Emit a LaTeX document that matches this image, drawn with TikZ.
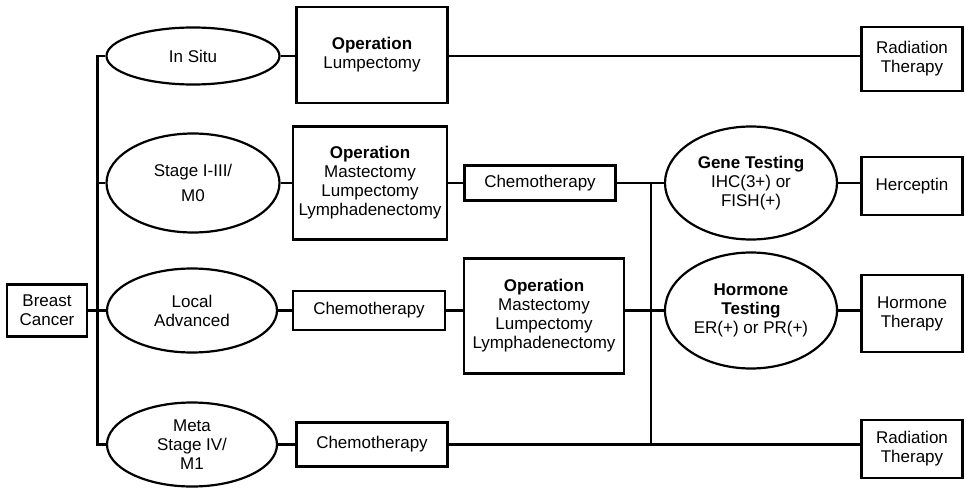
\documentclass[tikz,border=0pt]{standalone}
\usepackage{fontspec}
\setmainfont{Liberation Sans}
\usetikzlibrary{shapes.geometric}

\tikzset{
  box/.style={draw, rectangle, line width=2.2pt, inner sep=0pt, align=center},
  oval/.style={draw, ellipse, line width=2.2pt, inner sep=0pt, align=center},
  link/.style={line width=2.2pt}
}

\begin{document}
\begin{tikzpicture}[x=1pt, y=-1pt, font=\fontsize{17}{19}\selectfont]
  \useasboundingbox (0,0) rectangle (965,487);

  % Start and stages
  \node[box, minimum width=80pt, minimum height=52pt] (cancer) at (47,310.5) {Breast\\Cancer};
  \node[oval, minimum width=173pt, minimum height=57pt] (insitu) at (193,56) {In Situ};
  \node[oval, minimum width=173pt, minimum height=99pt] (stage) at (193,183) {Stage I-III/\\[6pt]M0};
  \node[oval, minimum width=170pt, minimum height=84pt] (local) at (192,310.5) {Local\\Advanced};
  \node[oval, minimum width=170pt, minimum height=84pt] (meta) at (192,444.5) {Meta\\Stage IV/\\M1};

  % First treatment
  \node[box, minimum width=151pt, minimum height=96pt] (op1) at (372,55) {\textbf{Operation}\\Lumpectomy};
  \node[box, minimum width=154pt, minimum height=113pt] (op2) at (370,183) {\textbf{Operation}\\Mastectomy\\Lumpectomy\\Lymphadenectomy};
  \node[box, minimum width=152pt, minimum height=39pt] (chemo2) at (369,310.5) {Chemotherapy};
  \node[box, minimum width=151pt, minimum height=44pt] (chemo3) at (372,444.5) {Chemotherapy};

  % Second treatment
  \node[box, minimum width=151pt, minimum height=35pt] (chemo1) at (540,183) {Chemotherapy};
  \node[box, minimum width=160pt, minimum height=115pt] (op3) at (544,316) {\textbf{Operation}\\Mastectomy\\Lumpectomy\\Lymphadenectomy};

  % Testing
  \node[oval, minimum width=172pt, minimum height=113pt] (gene) at (751,183) {\textbf{Gene Testing}\\IHC(3+) or\\FISH(+)};
  \node[oval, minimum width=172pt, minimum height=116pt] (hormone) at (751,310.5) {\textbf{Hormone}\\\textbf{Testing}\\ER(+) or PR(+)};

  % Therapies
  \node[box, minimum width=101pt, minimum height=64pt] (rad1) at (912,59) {Radiation\\Therapy};
  \node[box, minimum width=101pt, minimum height=58pt] (herceptin) at (912,186) {Herceptin};
  \node[box, minimum width=101pt, minimum height=77pt] (hther) at (912,313.5) {Hormone\\Therapy};
  \node[box, minimum width=101pt, minimum height=58pt] (rad2) at (912,449) {Radiation\\Therapy};

  \coordinate (trunk) at (97.5,0);
  \coordinate (bus) at (651,0);

  % Connectors
  \draw[link] (cancer) -- (local);
  \draw[link] (insitu.west) -- (insitu.west -| trunk) -- (meta.west -| trunk) -- (meta.west);
  \draw[link] (stage.west -| trunk) -- (stage.west);

  \draw[link] (insitu) -- (insitu.east -| op1.west);
  \draw[link] (insitu.east -| op1.east) -- (insitu.east -| rad1.west);

  \draw[link] (stage) -- (op2) -- (chemo1);
  \draw[link] (chemo1) -- (gene);
  \draw[link] (gene.east) -- (gene.east -| herceptin.west);

  \draw[link] (local) -- (chemo2);
  \draw[link] (chemo2.east) -- (chemo2.east -| op3.west);
  \draw[link] (hormone.west -| op3.east) -- (hormone.west);
  \draw[link] (hormone.east) -- (hormone.east -| hther.west);

  \draw[link] (meta) -- (chemo3);
  \draw[link] (chemo3.east) -- (chemo3.east -| rad2.west);

  \draw[link] (chemo1.east -| bus) -- (chemo3.east -| bus);
\end{tikzpicture}
\end{document}
